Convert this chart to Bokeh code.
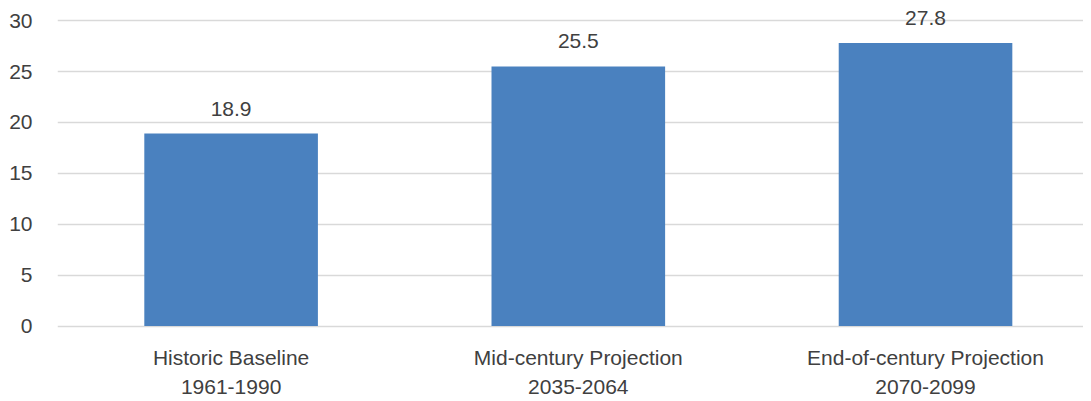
from bokeh.plotting import figure
from bokeh.models import ColumnDataSource, FixedTicker, LabelSet, Range1d
from bokeh.core.properties import value
from bokeh.embed import file_html
from bokeh.resources import INLINE

category_names = ["Historic Baseline", "Mid-century Projection", "End-of-century Projection"]
category_periods = ["1961-1990", "2035-2064", "2070-2099"]
values = [18.9, 25.5, 27.8]
value_labels = ["18.9", "25.5", "27.8"]
y_ticks = [0, 5, 10, 15, 20, 25, 30]

FONT = "Liberation Sans"
TEXT = "#404040"
FS = "21px"

x_pos = [i + 0.5 for i in range(len(category_names))]
src = ColumnDataSource(dict(x=x_pos, val=values, lab=value_labels,
                            name=category_names, period=category_periods,
                            zero=[0] * len(values)))

# frame spans the category label area too, so the labels are not clipped
p = figure(x_range=Range1d(0, 2.955), y_range=Range1d(-7.02, 31.09),
           width=1083, height=397, output_backend="svg", toolbar_location=None,
           min_border_left=57, min_border_right=0, min_border_top=9, min_border_bottom=0)
p.vbar(x="x", top="val", bottom=0, width=0.5, source=src, color="#4a81bf", line_color=None)

common = dict(source=src, text_align="center", text_baseline="alphabetic",
              text_font=value(FONT), text_font_size=FS, text_color=TEXT)
p.add_layout(LabelSet(x="x", y="val", text="lab", y_offset=18, **common))
p.add_layout(LabelSet(x="x", y="zero", text="name", y_offset=-38.5, **common))
p.add_layout(LabelSet(x="x", y="zero", text="period", y_offset=-68, **common))

p.outline_line_color = None
p.xaxis.visible = False
p.xgrid.grid_line_color = None
p.ygrid.grid_line_color = "#d9d9d9"
p.ygrid.grid_line_width = 1.3
p.yaxis.ticker = FixedTicker(ticks=y_ticks)
p.yaxis.axis_line_color = None
p.yaxis.major_tick_line_color = None
p.yaxis.minor_tick_line_color = None
p.yaxis.major_label_standoff = 19
p.yaxis.major_label_text_font = FONT
p.yaxis.major_label_text_font_size = FS
p.yaxis.major_label_text_color = TEXT

open("out.html", "w").write(file_html(p, INLINE))
